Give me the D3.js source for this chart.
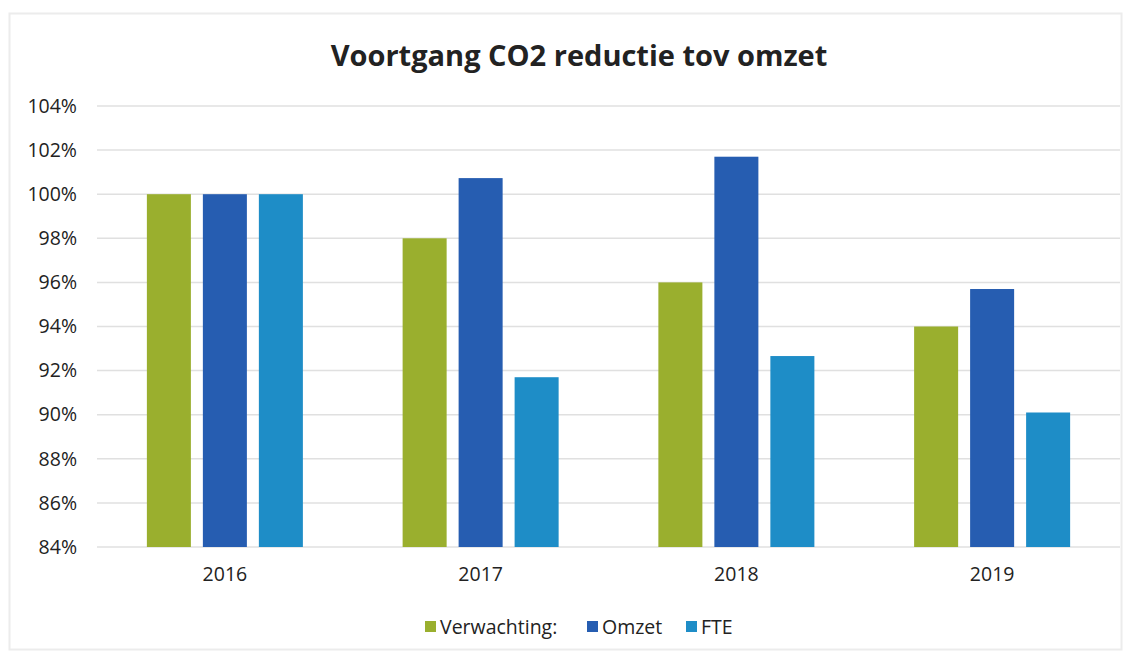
<!DOCTYPE html>
<html>
<head>
<meta charset="utf-8">
<script src="https://cdn.jsdelivr.net/npm/d3@7"></script>
<style>
  body { margin: 0; background: #fff; }
  text { font-family: "Open Sans", "Noto Sans", sans-serif; fill: #222; }
</style>
</head>
<body>
<svg id="chart"></svg>
<script>
const years = ['2016', '2017', '2018', '2019'];
const seriesNames = ['Verwachting:', 'Omzet', 'FTE'];
const verwachting = [100, 98, 96, 94];
const omzet = [100, 100.73, 101.7, 95.7];
const fte = [100, 91.7, 92.66, 90.1];
const yTicks = [84, 86, 88, 90, 92, 94, 96, 98, 100, 102, 104];
const colors = ['#9aaf2e', '#265db1', '#1e8dc7'];

const W = 1132, H = 656;
const margin = { top: 106, right: 12, bottom: 109, left: 97 };

const svg = d3.select('#chart').attr('width', W).attr('height', H);

// faint outer frame like the pasted chart
svg.append('rect')
  .attr('x', 9.5).attr('y', 13.5)
  .attr('width', W - 20).attr('height', H - 20)
  .attr('fill', 'none')
  .attr('stroke', '#ececec')
  .attr('stroke-width', 2);

svg.append('text')
  .attr('x', 579).attr('y', 66)
  .attr('text-anchor', 'middle')
  .style('font-size', '29px')
  .style('font-weight', 'bold')
  .text('Voortgang CO2 reductie tov omzet');

const x0 = d3.scaleBand()
  .domain(years)
  .range([margin.left, W - margin.right])
  .paddingInner(0.39)
  .paddingOuter(0.195);

const x1 = d3.scaleBand()
  .domain(seriesNames)
  .range([0, x0.bandwidth()])
  .paddingInner(0.214)
  .paddingOuter(0);

const y = d3.scaleLinear()
  .domain([84, 104])
  .range([H - margin.bottom, margin.top]);

// gridlines
svg.append('g')
  .selectAll('line')
  .data(yTicks)
  .join('line')
  .attr('x1', margin.left).attr('x2', W - margin.right)
  .attr('y1', d => y(d)).attr('y2', d => y(d))
  .attr('stroke', '#e0e0e0')
  .attr('stroke-width', 1.5);

// y axis labels
const yAxis = d3.axisLeft(y)
  .tickValues(yTicks)
  .tickSize(0)
  .tickPadding(20)
  .tickFormat(d => d + '%');

svg.append('g')
  .attr('transform', `translate(${margin.left},0)`)
  .call(yAxis)
  .call(g => g.select('.domain').remove())
  .selectAll('text')
  .style('font-size', '19.5px')
  .attr('fill', '#222');

// x axis labels
const xAxis = d3.axisBottom(x0).tickSize(0).tickPadding(20);
svg.append('g')
  .attr('transform', `translate(0,${H - margin.bottom})`)
  .call(xAxis)
  .call(g => g.select('.domain').remove())
  .selectAll('text')
  .style('font-size', '19.5px')
  .attr('fill', '#222');

const data = years.map((yr, i) => ({
  year: yr,
  values: [verwachting[i], omzet[i], fte[i]]
}));

const groups = svg.append('g')
  .selectAll('g')
  .data(data)
  .join('g')
  .attr('transform', d => `translate(${x0(d.year)},0)`);

groups.selectAll('rect')
  .data(d => d.values.map((v, i) => ({ key: seriesNames[i], value: v, i })))
  .join('rect')
  .attr('x', d => x1(d.key))
  .attr('width', x1.bandwidth())
  .attr('y', d => y(d.value))
  .attr('height', d => y(84) - y(d.value))
  .attr('fill', d => colors[d.i]);

// legend
const legendX = [425, 587, 686];
const legend = svg.append('g')
  .selectAll('g')
  .data(seriesNames)
  .join('g')
  .attr('transform', (d, i) => `translate(${legendX[i]},627)`);

legend.append('rect')
  .attr('x', 0).attr('y', -6)
  .attr('width', 11).attr('height', 11)
  .attr('fill', (d, i) => colors[i]);

legend.append('text')
  .attr('x', 15).attr('y', 0)
  .attr('dy', '0.35em')
  .style('font-size', '19.5px')
  .text(d => d);
</script>
</body>
</html>
